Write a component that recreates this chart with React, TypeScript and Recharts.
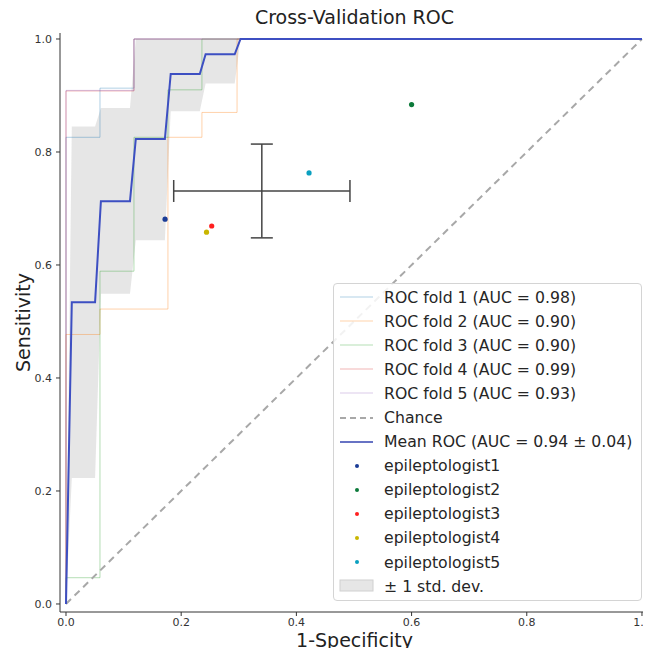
import React from "react";
import { ComposedChart, XAxis, YAxis, Line, Area, Scatter, ErrorBar } from "recharts";

// mean ROC on the interpolation grid, and the ±1 std band
const gridX = [0, 0.0101, 0.0505, 0.0606, 0.1111, 0.1212, 0.1717, 0.1818, 0.2323, 0.2424, 0.2929, 0.303, 1];
const meanTpr = [0, 0.534, 0.534, 0.713, 0.713, 0.823, 0.823, 0.938, 0.938, 0.973, 0.973, 1, 1];
const bandLow = [0, 0.223, 0.223, 0.549, 0.549, 0.644, 0.644, 0.872, 0.872, 0.921, 0.921, 1, 1];
const bandHigh = [0, 0.845, 0.845, 0.878, 0.878, 1, 1, 1, 1, 1, 1, 1, 1];

// per-fold roc curves
const fold1Fpr = [0, 0, 0.059, 0.059, 0.118, 0.118, 1];
const fold1Tpr = [0, 0.826, 0.826, 0.913, 0.913, 1, 1];
const fold2Fpr = [0, 0, 0.059, 0.059, 0.177, 0.177, 0.236, 0.236, 0.297, 0.297, 1];
const fold2Tpr = [0, 0.477, 0.477, 0.522, 0.522, 0.826, 0.826, 0.87, 0.87, 1, 1];
const fold3Fpr = [0, 0, 0.059, 0.059, 0.118, 0.118, 0.177, 0.177, 0.236, 0.236, 1];
const fold3Tpr = [0, 0.0465, 0.0465, 0.589, 0.589, 0.826, 0.826, 0.91, 0.91, 1, 1];
const fold4Fpr = [0, 0, 0.118, 0.118, 1];
const fold4Tpr = [0, 0.908, 0.908, 1, 1];
const fold5Fpr = [0, 0, 0.118, 0.118, 1];
const fold5Tpr = [0, 0.909, 0.909, 1, 1];

const foldNames = [
  "ROC fold 1 (AUC = 0.98)",
  "ROC fold 2 (AUC = 0.90)",
  "ROC fold 3 (AUC = 0.90)",
  "ROC fold 4 (AUC = 0.99)",
  "ROC fold 5 (AUC = 0.93)",
];
const foldColors = ["#1f77b4", "#ff7f0e", "#2ca02c", "#d62728", "#9467bd"];

// epileptologists (1-specificity, sensitivity)
const docNames = ["epileptologist1", "epileptologist2", "epileptologist3", "epileptologist4", "epileptologist5"];
const docFpr = [0.172, 0.6, 0.253, 0.244, 0.422];
const docTpr = [0.681, 0.884, 0.669, 0.658, 0.763];
const docColors = ["#1b3c96", "#0c7a3a", "#ff1f1f", "#c9b600", "#0aa0c0"];

// mean ± std of the epileptologists
const docMean = { x: 0.34, y: 0.731, xerr: 0.153, yerr: 0.083 };

const ticks = [0, 0.2, 0.4, 0.6, 0.8, 1.0];

const table = gridX.map((x, i) => ({ x, mean: meanTpr[i], band: [bandLow[i], bandHigh[i]] }));
const folds = [
  [fold1Fpr, fold1Tpr],
  [fold2Fpr, fold2Tpr],
  [fold3Fpr, fold3Tpr],
  [fold4Fpr, fold4Tpr],
  [fold5Fpr, fold5Tpr],
].map(([f, t]) => f.map((x, i) => ({ x, y: t[i] })));
const chance = [
  { x: 0, y: 0 },
  { x: 1, y: 1 },
];

const font = "'DejaVu Sans', sans-serif";
const ink = "#333";

const LegendBox = () => {
  const row = (handle: React.ReactNode, text: string) => (
    <div key={text} style={{ display: "flex", alignItems: "center", height: 24.1 }}>
      <svg width={45} height={24} style={{ flex: "none" }}>
        {handle}
      </svg>
      <span style={{ marginLeft: 5, whiteSpace: "nowrap" }}>{text}</span>
    </div>
  );
  return (
    <div
      style={{
        position: "absolute",
        left: 325,
        top: 275,
        width: 309,
        height: 318,
        border: "1px solid #d4d4d4",
        borderRadius: 4,
        background: "rgba(255,255,255,0.85)",
        fontFamily: font,
        fontSize: 15.7,
        color: "#262626",
        paddingTop: 1,
        boxSizing: "border-box",
      }}
    >
      {foldNames.map((n, i) =>
        row(<line x1={6} x2={39} y1={12} y2={12} stroke={foldColors[i]} strokeOpacity={0.35} />, n)
      )}
      {row(<line x1={6} x2={39} y1={12} y2={12} stroke="#a8a8a8" strokeWidth={2} strokeDasharray="6 4" />, "Chance")}
      {row(<line x1={6} x2={39} y1={12} y2={12} stroke="#3545b0" strokeWidth={1.6} />, "Mean ROC (AUC = 0.94 \u00b1 0.04)")}
      {docNames.map((n, i) => row(<circle cx={23} cy={12} r={2} fill={docColors[i]} />, n))}
      {row(<rect x={6} y={6} width={33} height={11} fill="#e6e6e6" stroke="#d0d0d0" />, "\u00b1 1 std. dev.")}
    </div>
  );
};

export default function App() {
  return (
    <div style={{ position: "relative", width: 643, height: 640 }}>
      <ComposedChart width={643} height={640} data={table} margin={{ top: 25, right: 2, bottom: 0, left: 0 }}>
        <XAxis
          type="number"
          dataKey="x"
          domain={[-0.0104, 1.0122]}
          allowDataOverflow
          ticks={ticks}
          tickFormatter={(v) => v.toFixed(1)}
          height={36}
          tickSize={4}
          tickMargin={2}
          stroke={ink}
          tick={{ fontSize: 11, fill: ink, fontFamily: font }}
          label={{ value: "1-Specificity", position: "insideBottom", offset: 1, style: { fontSize: 19, fill: "#222", fontFamily: font } }}
        />
        <YAxis
          type="number"
          dataKey="y"
          domain={[-0.0142, 1.0106]}
          allowDataOverflow
          ticks={ticks}
          tickFormatter={(v) => v.toFixed(1)}
          width={52}
          tickSize={4}
          tickMargin={4}
          stroke={ink}
          tick={{ fontSize: 11, fill: ink, fontFamily: font }}
          label={{ value: "Sensitivity", angle: -90, position: "insideLeft", offset: 15, style: { fontSize: 19, fill: "#222", fontFamily: font, textAnchor: "middle" } }}
        />
        <XAxis xAxisId="top" orientation="top" type="number" domain={[0, 1]} height={0} tick={false} tickLine={false} stroke={ink} />
        <YAxis yAxisId="right" orientation="right" type="number" domain={[0, 1]} width={0} tick={false} tickLine={false} stroke={ink} />

        {folds.map((d, i) => (
          <Line
            key={foldNames[i]}
            data={d}
            dataKey="y"
            type="linear"
            stroke={foldColors[i]}
            strokeOpacity={0.35}
            strokeWidth={1}
            dot={false}
            isAnimationActive={false}
          />
        ))}
        <Line data={chance} dataKey="y" type="linear" stroke="#a8a8a8" strokeWidth={2} strokeDasharray="7 5" dot={false} isAnimationActive={false} />
        <Area dataKey="band" type="linear" stroke="none" fill="#808080" fillOpacity={0.2} isAnimationActive={false} />
        <Line dataKey="mean" type="linear" stroke="#3d4fc2" strokeWidth={2} dot={false} isAnimationActive={false} />
        {docNames.map((n, i) => (
          <Scatter
            key={n}
            data={[{ x: docFpr[i], y: docTpr[i] }]}
            dataKey="y"
            fill={docColors[i]}
            shape={(p: any) => <circle cx={p.cx} cy={p.cy} r={2.6} fill={docColors[i]} />}
            isAnimationActive={false}
          />
        ))}
        <Scatter data={[docMean]} dataKey="y" shape={() => <g />} isAnimationActive={false}>
          <ErrorBar dataKey="xerr" direction="x" width={11} stroke="#444" strokeWidth={1.5} />
          <ErrorBar dataKey="yerr" direction="y" width={11} stroke="#444" strokeWidth={1.5} />
        </Scatter>
      </ComposedChart>
      <div
        style={{
          position: "absolute",
          left: 52,
          width: 589,
          top: -2,
          textAlign: "center",
          fontFamily: font,
          fontSize: 19,
          color: "#222",
        }}
      >
        Cross-Validation ROC
      </div>
      <LegendBox />
    </div>
  );
}
